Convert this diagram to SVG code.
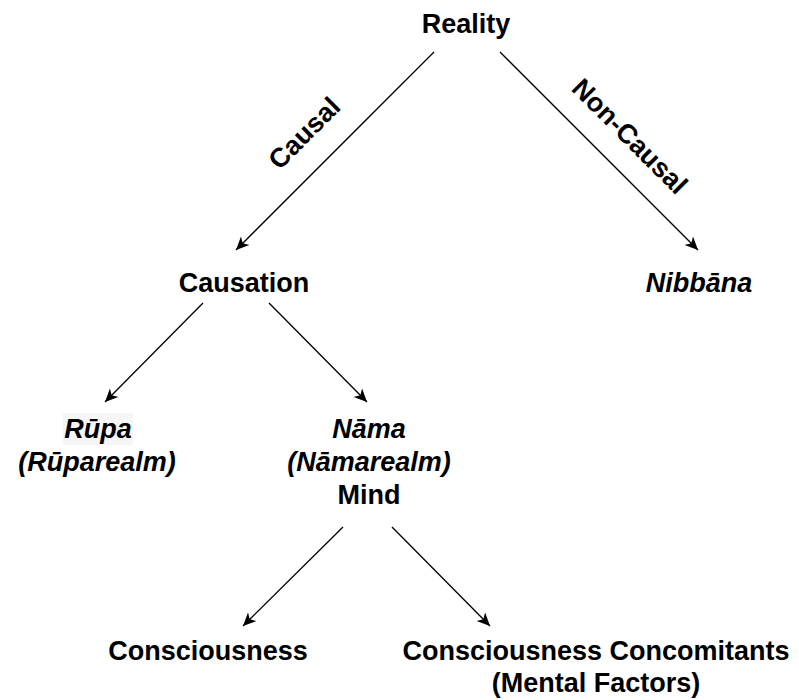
<svg xmlns="http://www.w3.org/2000/svg" width="799" height="700" viewBox="0 0 799 700">
<defs>
<style>
.t{font-family:"Liberation Sans",Arial,sans-serif;font-size:27px;font-weight:bold;fill:#000;text-anchor:middle}
.i{font-style:italic}
.c{stroke:#000;stroke-width:1.3;fill:none;marker-end:url(#ah)}
</style>
<marker id="ah" markerUnits="userSpaceOnUse" markerWidth="16" markerHeight="14" refX="13" refY="6" orient="auto" viewBox="0 0 16 12">
<path d="M0,0 L13,6 L0,12 L3.5,6 Z" fill="#000"/>
</marker>
</defs>
<rect width="799" height="700" fill="#fff"/>
<g id="connectors">
<line class="c" x1="434" y1="52" x2="236" y2="250"/>
<line class="c" x1="500" y1="52" x2="698" y2="250"/>
<line class="c" x1="203" y1="303" x2="105" y2="402"/>
<line class="c" x1="269" y1="303" x2="367" y2="402"/>
<line class="c" x1="343" y1="527" x2="243" y2="626"/>
<line class="c" x1="392" y1="527" x2="490" y2="626"/>
<text class="t" transform="translate(304,133) rotate(-45)" y="9.5">Causal</text>
<text class="t" transform="translate(630,136) rotate(45)" y="9.5">Non-Causal</text>
</g>
<g id="reality"><text class="t" x="466" y="33">Reality</text></g>
<g id="causation"><text class="t" x="244" y="292">Causation</text></g>
<g id="nibbana"><text class="t i" x="699" y="292">Nibbāna</text></g>
<g id="rupa">
<rect x="63" y="413" width="70" height="32" fill="#f6f6f6"/>
<text class="t i" x="98" y="438">Rūpa</text>
<text class="t i" x="97" y="471">(Rūparealm)</text>
</g>
<g id="nama">
<text class="t i" x="369" y="438">Nāma</text>
<text class="t i" x="369" y="471">(Nāmarealm)</text>
<text class="t" x="369" y="504">Mind</text>
</g>
<g id="consciousness"><text class="t" x="208" y="660">Consciousness</text></g>
<g id="concomitants">
<text class="t" x="596" y="660">Consciousness Concomitants</text>
<text class="t" x="596" y="692">(Mental Factors)</text>
</g>
</svg>
